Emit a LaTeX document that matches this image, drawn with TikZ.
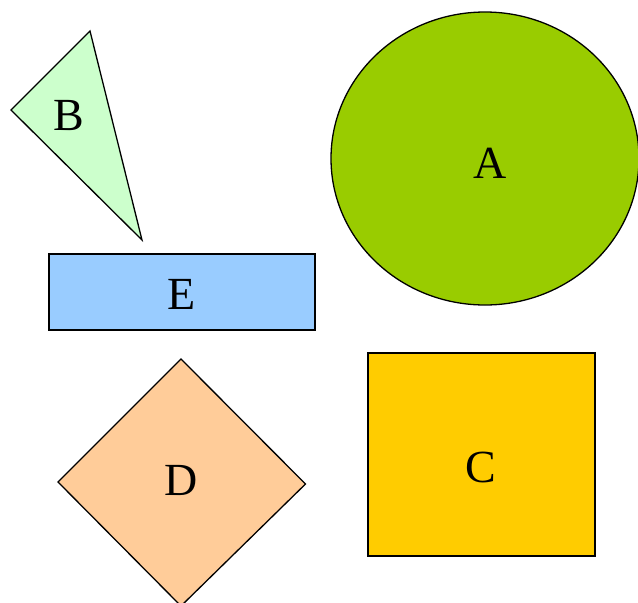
\documentclass[tikz,border=0pt]{standalone}
\usepackage{fontspec}
\setmainfont{Liberation Serif}
\usetikzlibrary{shapes.geometric}
\definecolor{cB}{HTML}{CCFFCC}
\definecolor{cA}{HTML}{99CC00}
\definecolor{cE}{HTML}{99CCFF}
\definecolor{cD}{HTML}{FFCC99}
\definecolor{cC}{HTML}{FFCC00}
\begin{document}
\begin{tikzpicture}[x=1pt,y=-1pt,
  shapeline/.style={draw=black,line width=1.3pt,line join=miter},
  lbl/.style={font=\fontsize{46}{50}\selectfont,inner sep=0pt}]
\useasboundingbox (0,0) rectangle (638,603);
\begin{scope}
\clip (0,0) rectangle (638,603);
% B triangle
\coordinate (b1) at (90,31);
\coordinate (b2) at (11,110);
\coordinate (b3) at (142,240);
\filldraw[shapeline,fill=cB] (b1) -- (b2) -- (b3) -- cycle;
% A ellipse
\filldraw[shapeline,fill=cA] (485,158.5) ellipse [x radius=154,y radius=146.5];
% E rectangle
\filldraw[shapeline,fill=cE] (49,254) rectangle (315,330);
% D diamond
\coordinate (d1) at (181,359);
\coordinate (d2) at (58,482);
\coordinate (d3) at (181,606);
\coordinate (d4) at (305.5,484);
\filldraw[shapeline,fill=cD] (d1) -- (d2) -- (d3) -- (d4) -- cycle;
% C rectangle
\filldraw[shapeline,fill=cC] (368,353) rectangle (595,556);
\end{scope}
\node[lbl] (A) at (490,163) {A};
\node[lbl] (B) at (69,116) {B};
\node[lbl] (E) at (182,294) {E};
\node[lbl] (D) at (181,480) {D};
\node[lbl] (C) at (481,467) {C};
\end{tikzpicture}
\end{document}
